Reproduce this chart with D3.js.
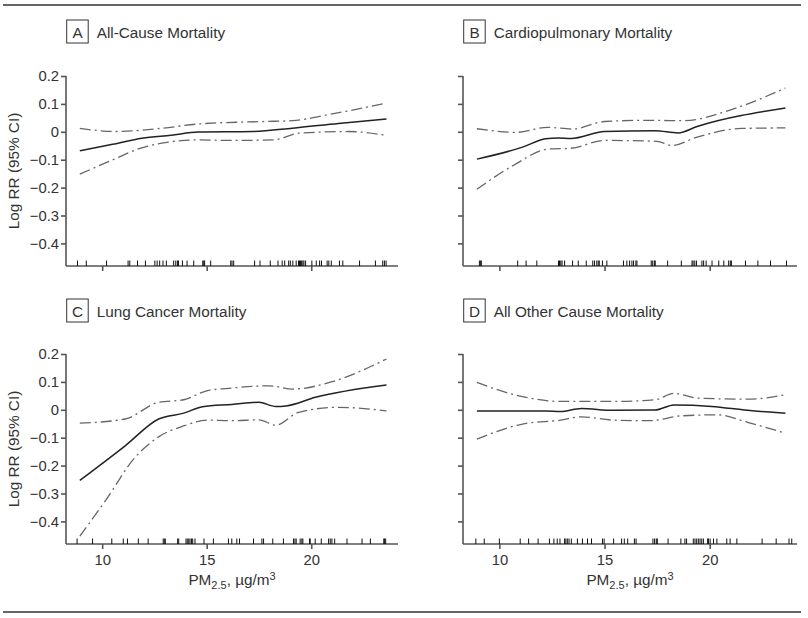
<!DOCTYPE html>
<html>
<head>
<meta charset="utf-8">
<script src="https://cdn.jsdelivr.net/npm/d3@7"></script>
<style>
  html, body { margin: 0; padding: 0; background: #fff; }
  svg { display: block; font-family: "Liberation Sans", Arial, sans-serif; }
</style>
</head>
<body>
<svg id="chart" width="808" height="618"></svg>
<script>
// ---------------- data ----------------
const panelLetters = ["A", "B", "C", "D"];
const panelTitles = ["All-Cause Mortality", "Cardiopulmonary Mortality", "Lung Cancer Mortality", "All Other Cause Mortality"];
const xTicks = [10, 15, 20];
const yTicks = [0.2, 0.1, 0, -0.1, -0.2, -0.3, -0.4];
const yLabel = "Log RR (95% CI)";

// [PM2.5, log RR]
const allCauseEst = [[8.93,-0.068],[10.5,-0.045],[11.9,-0.023],[13.3,-0.012],[14.6,-0.001],[17.2,0.001],[19.1,0.013],[21.3,0.030],[23.6,0.046]];
const allCauseUpper = [[8.93,0.012],[10.7,0.001],[12.9,0.013],[14.6,0.028],[17.8,0.037],[19.1,0.040],[21.0,0.064],[23.6,0.103]];
const allCauseLower = [[8.93,-0.152],[10.3,-0.107],[12.1,-0.053],[14.6,-0.029],[16.2,-0.031],[18.2,-0.029],[19.4,-0.005],[21.8,0.001],[23.6,-0.013]];

const cardioEst = [[8.93,-0.098],[11.1,-0.055],[12.2,-0.025],[12.8,-0.022],[13.4,-0.024],[15.0,0.001],[17.4,0.004],[18.5,-0.004],[19.4,0.019],[23.6,0.085]];
const cardioUpper = [[8.93,0.011],[10.8,-0.002],[12.3,0.016],[13.5,0.010],[15.0,0.037],[17.0,0.041],[18.8,0.040],[21.0,0.079],[23.6,0.157]];
const cardioLower = [[8.93,-0.206],[10.7,-0.119],[12.3,-0.062],[13.4,-0.059],[15.0,-0.031],[17.5,-0.034],[18.2,-0.049],[19.4,-0.019],[21.5,0.012],[23.6,0.014]];

const lungEst = [[8.93,-0.253],[11.1,-0.129],[12.7,-0.033],[13.9,-0.012],[14.8,0.011],[16.2,0.019],[17.5,0.027],[18.3,0.012],[18.8,0.014],[20.2,0.045],[23.6,0.089]];
const lungUpper = [[8.93,-0.048],[11.1,-0.033],[12.7,0.027],[13.9,0.036],[15.0,0.068],[16.2,0.078],[18.0,0.086],[19.1,0.074],[21.0,0.101],[23.6,0.182]];
const lungLower = [[8.93,-0.453],[10.2,-0.321],[11.5,-0.177],[12.7,-0.097],[13.9,-0.058],[15.0,-0.037],[16.2,-0.039],[17.5,-0.036],[18.3,-0.055],[19.4,-0.009],[21.3,0.009],[23.6,-0.004]];

const otherEst = [[8.93,-0.004],[12.2,-0.004],[12.9,-0.006],[13.9,0.005],[15.4,-0.002],[17.4,-0.001],[18.3,0.017],[20.1,0.012],[21.8,-0.002],[23.6,-0.012]];
const otherUpper = [[8.93,0.098],[11.1,0.047],[12.9,0.030],[15.4,0.030],[17.4,0.036],[18.3,0.059],[19.4,0.042],[21.8,0.038],[23.6,0.054]];
const otherLower = [[8.93,-0.105],[11.1,-0.051],[12.9,-0.037],[13.9,-0.025],[15.4,-0.037],[17.2,-0.039],[18.6,-0.022],[20.4,-0.018],[21.8,-0.045],[23.6,-0.084]];

// rug: PM2.5 levels of the cities
const rugA = [8.82,9.24,10.21,11.24,11.32,11.69,12.07,12.52,12.63,12.75,12.91,13.07,13.42,13.52,13.60,13.65,13.84,14.06,14.38,14.81,14.86,14.90,15.19,16.15,16.21,16.29,17.29,17.55,18.04,18.41,18.61,18.73,18.92,19.00,19.12,19.28,19.39,19.44,19.49,19.54,19.60,19.65,19.73,20.03,20.24,20.40,20.49,20.76,20.84,20.96,21.35,21.51,22.31,23.07,23.42,23.50,23.58];
const rugB = [9.05,9.11,9.14,10.87,11.27,11.78,12.81,12.86,12.92,12.98,13.10,13.48,13.75,14.13,14.44,14.52,14.63,14.70,14.75,14.90,15.11,15.90,16.06,16.19,16.30,16.38,16.49,16.54,17.22,17.29,17.37,17.41,18.00,18.65,19.16,19.21,19.29,19.37,19.63,19.71,19.83,20.11,20.43,20.67,20.90,20.98,21.03,21.70,22.29,22.89,23.65];
const rugC = [8.80,9.54,10.46,11.01,11.21,11.73,12.20,12.92,12.97,13.02,13.61,13.66,14.01,14.07,14.14,14.20,14.27,14.33,14.44,14.87,15.32,16.04,16.20,16.44,16.57,17.24,17.64,17.72,18.16,18.67,19.15,19.22,19.28,19.47,19.55,19.60,19.92,19.95,20.19,20.48,20.83,20.91,20.99,21.12,21.71,22.43,22.83,23.47,23.51,23.56];
const rugD = [8.88,9.28,10.0,10.99,11.39,11.84,12.38,12.59,12.75,12.88,13.10,13.16,13.23,13.31,13.42,13.71,13.95,14.19,14.38,14.90,14.98,15.43,15.81,15.94,16.10,16.42,16.50,17.30,17.38,17.46,17.51,18.02,18.63,18.82,18.90,19.22,19.30,19.38,19.46,19.54,19.62,19.70,19.90,19.94,20.02,20.18,20.34,20.81,20.97,21.29,22.49,23.16,23.77,23.90];

// ---------------- layout ----------------
const panels = [
  {est: allCauseEst, up: allCauseUpper, lo: allCauseLower, rug: rugA, x0: 66, x1: 398, yTop: 76, yBot: 266, yLabels: true, xLabels: false, titleY: 20},
  {est: cardioEst, up: cardioUpper, lo: cardioLower, rug: rugB, x0: 463, x1: 797, yTop: 76, yBot: 266, yLabels: false, xLabels: false, titleY: 20},
  {est: lungEst, up: lungUpper, lo: lungLower, rug: rugC, x0: 66, x1: 398, yTop: 354, yBot: 544, yLabels: true, xLabels: true, titleY: 299},
  {est: otherEst, up: otherUpper, lo: otherLower, rug: rugD, x0: 463, x1: 797, yTop: 354, yBot: 544, yLabels: false, xLabels: true, titleY: 299}
];
const xDomain = [8.27, 24.15];
const yDomain = [-0.481, 0.2];

const textColor = "#333";
const axisColor = "#555";

const svg = d3.select("#chart");

// rules
svg.append("line").attr("x1", 3).attr("x2", 801).attr("y1", 5).attr("y2", 5)
  .attr("stroke", "#666").attr("stroke-width", 2);
svg.append("line").attr("x1", 3).attr("x2", 801).attr("y1", 612).attr("y2", 612)
  .attr("stroke", "#666").attr("stroke-width", 2);

panels.forEach((p, i) => {
  const x = d3.scaleLinear().domain(xDomain).range([p.x0, p.x1]);
  const y = d3.scaleLinear().domain(yDomain).range([p.yBot, p.yTop]);
  const g = svg.append("g");

  // title
  const bx = p.x0 + 0.7;
  g.append("rect").attr("x", bx).attr("y", p.titleY).attr("width", 21.5).attr("height", 23)
    .attr("fill", "none").attr("stroke", textColor).attr("stroke-width", 1);
  g.append("text").attr("x", bx + 10.8).attr("y", p.titleY + 17.5).attr("text-anchor", "middle")
    .attr("font-size", 15.3).attr("fill", textColor).text(panelLetters[i]);
  g.append("text").attr("x", bx + 30).attr("y", p.titleY + 17.5)
    .attr("font-size", 15.3).attr("fill", textColor).text(panelTitles[i]);

  // y axis
  const yAxis = d3.axisLeft(y).tickValues(yTicks).tickSize(5).tickPadding(2)
    .tickFormat(p.yLabels ? (d => d === 0 ? "0" : d3.format(".1f")(d)) : "");
  const ya = g.append("g").attr("transform", `translate(${p.x0},0)`).call(yAxis);
  ya.select(".domain").attr("d", `M-0,${y(0.2)}V${p.yBot}`);
  ya.selectAll("path, line").attr("stroke", axisColor).attr("stroke-width", 1.6);
  ya.selectAll("text").attr("fill", textColor).attr("font-size", 14.8).attr("font-family", "Liberation Sans, Arial, sans-serif");

  // x axis
  const xAxis = d3.axisBottom(x).tickValues(xTicks).tickSize(5).tickPadding(5)
    .tickFormat(p.xLabels ? d3.format("d") : "");
  const xa = g.append("g").attr("transform", `translate(0,${p.yBot})`).call(xAxis);
  xa.select(".domain").attr("d", `M${p.x0},0H${p.x1}`);
  xa.selectAll("path, line").attr("stroke", axisColor).attr("stroke-width", 1.6);
  xa.selectAll("text").attr("fill", textColor).attr("font-size", 14.8).attr("font-family", "Liberation Sans, Arial, sans-serif");

  // rug
  g.append("g").selectAll("line").data(p.rug).join("line")
    .attr("x1", d => x(d)).attr("x2", d => x(d))
    .attr("y1", p.yBot).attr("y2", p.yBot - 5.5)
    .attr("stroke", "#111").attr("stroke-width", 1);

  // curves
  const line = d3.line().x(d => x(d[0])).y(d => y(d[1])).curve(d3.curveMonotoneX);
  [p.up, p.lo].forEach(s => {
    g.append("path").attr("d", line(s)).attr("fill", "none")
      .attr("stroke", "#666").attr("stroke-width", 1.3)
      .attr("stroke-dasharray", "11,4,2,4");
  });
  g.append("path").attr("d", line(p.est)).attr("fill", "none")
    .attr("stroke", "#222").attr("stroke-width", 1.5);

  // y label
  if (p.yLabels) {
    const cy = (p.yTop + p.yBot) / 2;
    g.append("text").attr("transform", `translate(19,${cy}) rotate(-90)`)
      .attr("text-anchor", "middle").attr("font-size", 15.3).attr("fill", textColor).text(yLabel);
  }

  // x label
  if (p.xLabels) {
    const t = g.append("text").attr("x", (p.x0 + p.x1) / 2).attr("y", p.yBot + 41)
      .attr("text-anchor", "middle").attr("font-size", 15.3).attr("fill", textColor);
    t.append("tspan").text("PM");
    t.append("tspan").attr("font-size", 11).attr("dy", 4).text("2.5");
    t.append("tspan").attr("dy", -4).text(", µg/m");
    t.append("tspan").attr("font-size", 11).attr("dy", -5).text("3");
  }
});
</script>
</body>
</html>
